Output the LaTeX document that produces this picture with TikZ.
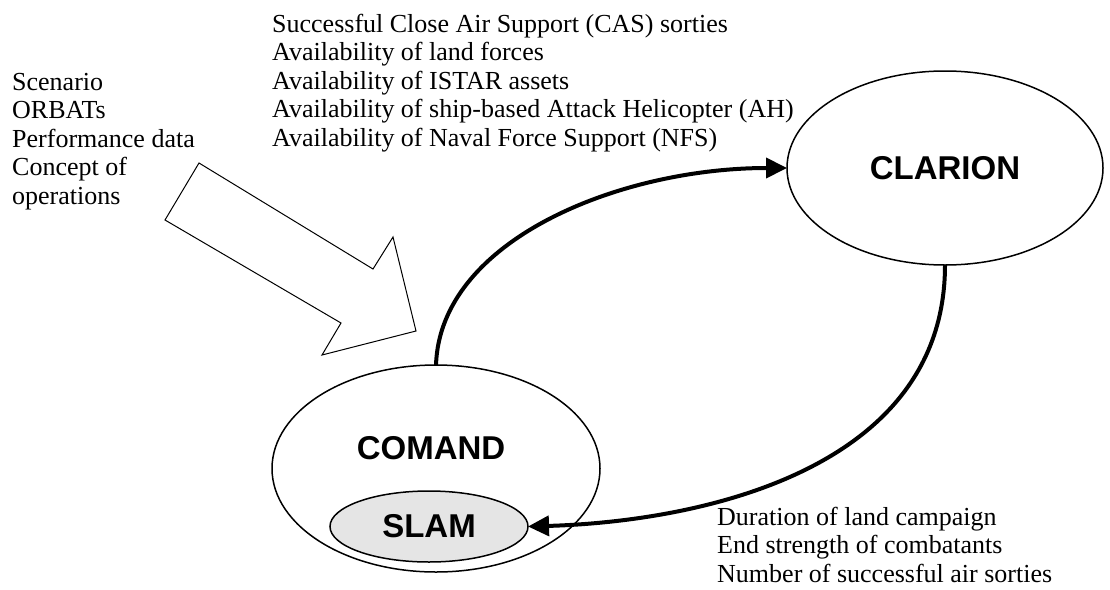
\documentclass[tikz,border=0pt]{standalone}
\usepackage{fontspec}
\setmainfont{Liberation Serif}
\newfontfamily\modelfont{Liberation Sans}
\usetikzlibrary{shapes.geometric,arrows.meta}

\begin{document}
\begin{tikzpicture}[x=1pt,y=-1pt,
  model/.style={ellipse,draw,line width=1.5pt,inner sep=0pt,outer sep=0pt},
  modeltext/.style={inner sep=0pt,font=\modelfont\bfseries\fontsize{33}{33}\selectfont},
  flow/.style={line width=4pt,-{Triangle[length=21pt,width=20pt]}},
  notes/.style={anchor=base west,inner sep=0pt,align=left,font=\fontsize{26}{28.5}\selectfont}]
  \useasboundingbox (0,0) rectangle (1110,589);

  % the two models
  \node [model,minimum width=328pt,minimum height=207pt] (comand) at (436,468.5) {};
  \node [modeltext] (comandname) at (431,448) {COMAND};
  \node [model,fill=black!10,minimum width=198pt,minimum height=71pt,modeltext] (slam) at (429,526.5) {SLAM};
  \node [model,minimum width=316pt,minimum height=194pt,modeltext] (clarion) at (945,168) {CLARION};

  % inputs
  \draw [line width=1pt] (199,163) -- (373,269) -- (393,237) -- (416,331) -- (322,355) -- (341,323) -- (165,220) -- cycle;

  % data passed between the models
  \draw [flow] (comand.north) .. controls +(4,-125) and +(-167,0) .. (clarion.west);
  \draw [flow] (clarion.south) .. controls +(0,205) and +(172,-5) .. (slam.east);

  % (base of a node = baseline of its last line)
  \node [notes] (inputs) at (12,204) {Scenario\\ORBATs\\Performance data\\Concept of\\operations};
  \node [notes] (tocl) at (272,146) {Successful Close Air Support (CAS) sorties\\Availability of land forces\\Availability of ISTAR assets\\Availability of ship-based Attack Helicopter (AH)\\Availability of Naval Force Support (NFS)};
  \node [notes] (tocom) at (717,582) {Duration of land campaign\\End strength of combatants\\Number of successful air sorties};

\end{tikzpicture}
\end{document}
